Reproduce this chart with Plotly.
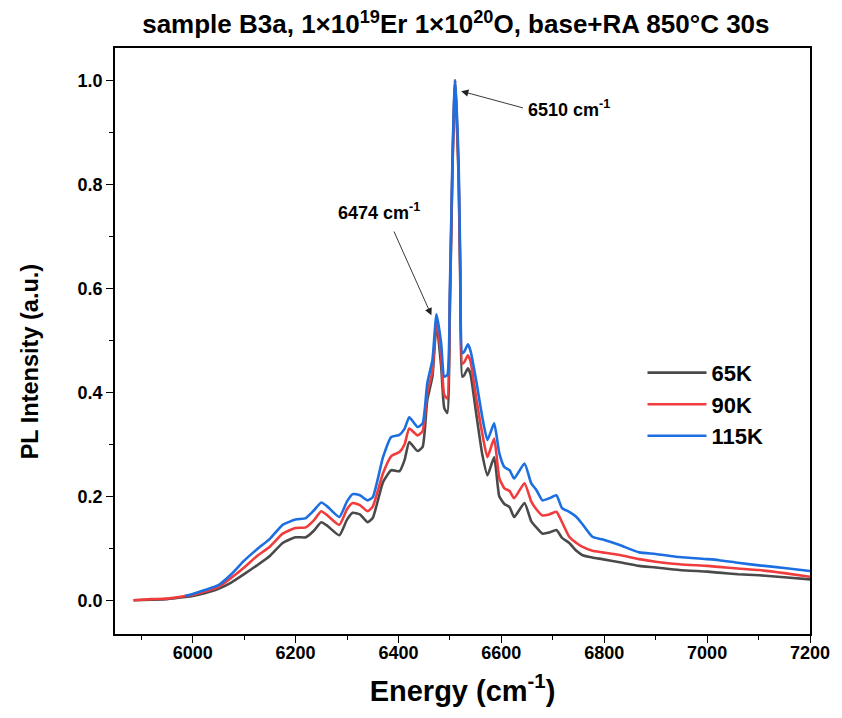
import plotly.graph_objects as go

# ---- data ----
energy = [5885, 5920, 5950, 5985, 6000, 6025, 6050, 6075, 6100, 6125, 6150, 6175, 6200, 6220,
          6235, 6250, 6262, 6285, 6300, 6311, 6325, 6340, 6350, 6370, 6386, 6402, 6412, 6421,
          6437, 6447, 6456, 6466, 6474, 6483, 6489, 6495, 6500, 6505, 6508, 6510, 6513, 6517,
          6520, 6524, 6528, 6535, 6540, 6551, 6563, 6573, 6586, 6596, 6606, 6616, 6625, 6645,
          6658, 6668, 6680, 6693, 6707, 6718, 6732, 6746, 6757, 6777, 6796, 6830, 6868, 6900,
          6946, 7000, 7023, 7060, 7101, 7150, 7200]

pl_65K = [0.0, 0.001, 0.002, 0.006, 0.008, 0.014, 0.022, 0.034, 0.05, 0.067, 0.085, 0.11, 0.121, 0.121,
          0.133, 0.15, 0.143, 0.125, 0.155, 0.168, 0.165, 0.15, 0.158, 0.227, 0.25, 0.248, 0.27, 0.304,
          0.287, 0.295, 0.385, 0.43, 0.532, 0.45, 0.37, 0.36, 0.56, 0.83, 0.94, 1.0, 0.93, 0.81,
          0.62, 0.43, 0.433, 0.446, 0.435, 0.36, 0.28, 0.24, 0.275, 0.2, 0.185, 0.179, 0.16, 0.187,
          0.152, 0.14, 0.128, 0.13, 0.135, 0.12, 0.11, 0.095, 0.087, 0.082, 0.079, 0.073, 0.066, 0.063,
          0.058, 0.055, 0.053, 0.05, 0.048, 0.044, 0.04]

pl_90K = [0.0, 0.002, 0.003, 0.008, 0.01, 0.017, 0.025, 0.043, 0.063, 0.085, 0.103, 0.128, 0.139, 0.14,
          0.153, 0.171, 0.163, 0.145, 0.175, 0.187, 0.183, 0.171, 0.18, 0.244, 0.277, 0.285, 0.3, 0.33,
          0.317, 0.325, 0.398, 0.44, 0.538, 0.47, 0.395, 0.388, 0.58, 0.84, 0.95, 1.0, 0.94, 0.82,
          0.64, 0.455, 0.458, 0.471, 0.46, 0.39, 0.32, 0.275, 0.311, 0.235, 0.215, 0.21, 0.196, 0.225,
          0.19, 0.175, 0.163, 0.165, 0.17, 0.15, 0.122, 0.11, 0.103, 0.095, 0.092, 0.087, 0.079, 0.074,
          0.069, 0.066, 0.064, 0.061, 0.058, 0.052, 0.045]

energy_115K = energy[3:]
pl_115K = [0.008, 0.012, 0.02, 0.029, 0.05, 0.076, 0.098, 0.118, 0.145, 0.155, 0.158,
           0.172, 0.188, 0.18, 0.16, 0.19, 0.204, 0.202, 0.192, 0.198, 0.275, 0.314, 0.318, 0.33, 0.352,
           0.333, 0.34, 0.417, 0.462, 0.55, 0.494, 0.43, 0.433, 0.6, 0.85, 0.96, 1.0, 0.95, 0.84,
           0.66, 0.475, 0.478, 0.492, 0.48, 0.423, 0.352, 0.308, 0.34, 0.283, 0.256, 0.25, 0.234, 0.263,
           0.225, 0.212, 0.192, 0.196, 0.202, 0.177, 0.17, 0.16, 0.147, 0.122, 0.117, 0.106, 0.092, 0.089,
           0.083, 0.079, 0.077, 0.072, 0.067, 0.062, 0.056]

series_names = ["65K", "90K", "115K"]
series_colors = ["#4a4a4a", "#f03c3c", "#1c6fe0"]

x_ticks = [6000, 6200, 6400, 6600, 6800, 7000, 7200]
y_ticks = [0.0, 0.2, 0.4, 0.6, 0.8, 1.0]

FONT = "Liberation Sans, Arial, sans-serif"

fig = go.Figure()
for xs, ys, name, col in zip([energy, energy, energy_115K],
                             [pl_65K, pl_90K, pl_115K],
                             series_names, series_colors):
    fig.add_trace(go.Scatter(x=xs, y=ys, mode="lines", name=f"<b>{name}</b>",
                             line=dict(color=col, width=2.6, shape="spline", smoothing=0.5)))

# arrows
fig.add_annotation(x=6522, y=0.979, ax=6645, ay=0.946, axref="x", ayref="y",
                   text="", showarrow=True, arrowhead=2, arrowsize=1.6, arrowwidth=0.9,
                   arrowcolor="#222")
fig.add_annotation(x=6648, y=0.945, text="<b>6510 cm<sup>-1</sup></b>", showarrow=False,
                   xanchor="left", yanchor="middle",
                   font=dict(family=FONT, size=18, color="black"))
fig.add_annotation(x=6464, y=0.548, ax=6390, ay=0.712, axref="x", ayref="y",
                   text="", showarrow=True, arrowhead=2, arrowsize=1.6, arrowwidth=0.9,
                   arrowcolor="#222")
fig.add_annotation(x=6363, y=0.748, text="<b>6474 cm<sup>-1</sup></b>", showarrow=False,
                   xanchor="center", yanchor="middle",
                   font=dict(family=FONT, size=18, color="black"))
# y-axis title (placed as in reference, slightly below centre)
fig.add_annotation(xref="paper", yref="paper", x=-0.122, y=0.464,
                   text="<b>PL Intensity (a.u.)</b>", showarrow=False, textangle=-90,
                   xanchor="center", yanchor="middle",
                   font=dict(family=FONT, size=23.5, color="black"))

fig.update_layout(
    width=834, height=710,
    margin=dict(l=107, r=30, t=40, b=84),
    paper_bgcolor="white", plot_bgcolor="white",
    font=dict(family=FONT, color="black"),
    title=dict(text="<b>sample B3a, 1×10<sup>19</sup>Er 1×10<sup>20</sup>O, base+RA 850°C 30s</b>",
               x=0.537, xanchor="center", y=0.977, yanchor="middle",
               font=dict(family=FONT, size=26, color="black")),
    showlegend=True,
    legend=dict(x=0.759, y=0.392, xanchor="left", yanchor="middle",
                bgcolor="rgba(0,0,0,0)", borderwidth=0,
                font=dict(family=FONT, size=22, color="black"),
                tracegroupgap=0, itemwidth=59),
    xaxis=dict(range=[5849, 7200], tickvals=x_ticks,
               ticktext=[f"<b>{v}</b>" for v in x_ticks],
               ticks="outside", ticklen=7, tickwidth=1.3, tickcolor="black",
               ticklabelstandoff=-5,
               minor=dict(ticks="outside", dtick=100, tick0=5900, ticklen=4, tickwidth=1.2, tickcolor="black"),
               showline=True, linecolor="black", linewidth=1.5, mirror=True,
               showgrid=False, zeroline=False,
               tickfont=dict(family=FONT, size=18, color="black"),
               title=dict(text="<b>Energy (cm<sup>-1</sup>)</b>", standoff=18,
                          font=dict(family=FONT, size=29, color="black"))),
    yaxis=dict(range=[-0.065, 1.062], tickvals=y_ticks,
               ticktext=[f"<b>{v:.1f}</b>" for v in y_ticks],
               ticks="outside", ticklen=7, tickwidth=1.3, tickcolor="black",
               minor=dict(ticks="outside", dtick=0.1, tick0=0, ticklen=4, tickwidth=1.2, tickcolor="black"),
               showline=True, linecolor="black", linewidth=1.5, mirror=True,
               showgrid=False, zeroline=False,
               tickfont=dict(family=FONT, size=18, color="black")),
)

fig.write_html("out.html")
